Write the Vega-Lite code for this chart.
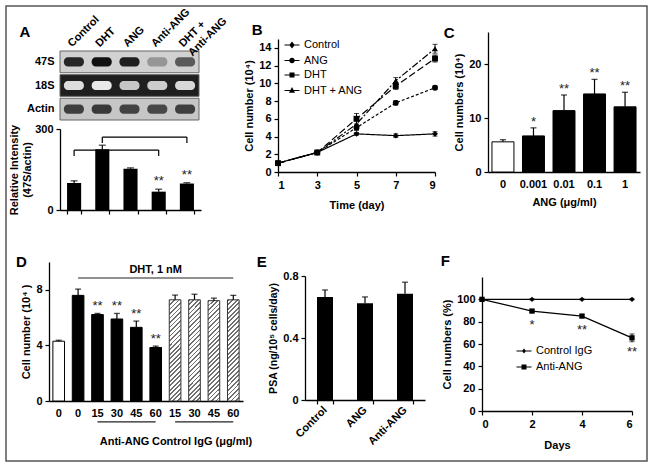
{
"$schema": "https://vega.github.io/schema/vega-lite/v6.json",
"background": "white",
"padding": {"left": 5, "top": 5, "right": 5, "bottom": 5},
"bounds": "flush",
"spacing": 26,
"config": {
  "font": "Liberation Sans",
  "view": {"stroke": null},
  "axis": {"grid": false, "domainColor": "#000", "domainWidth": 1.3, "tickColor": "#000", "tickWidth": 1.2, "tickSize": 4, "labelColor": "#000", "labelFont": "Liberation Sans", "labelFontSize": 11, "labelFontWeight": "bold", "labelPadding": 3, "titleColor": "#000", "titleFont": "Liberation Sans", "titleFontSize": 11, "titleFontWeight": "bold", "titlePadding": 4},
  "title": {"font": "Liberation Sans", "fontSize": 15, "fontWeight": "bold", "anchor": "start", "frame": "bounds", "color": "#000", "offset": 4},
  "legend": {"labelFont": "Liberation Sans", "labelFontSize": 11, "labelColor": "#000"}
},
"datasets": {
  "gelbg": [{"probe": "47S", "level": 0.16}, {"probe": "18S", "level": 0.88}, {"probe": "Actin", "level": 0.2}],
  "gel": [
    {"lane": "Control", "probe": "47S", "level": 0.85}, {"lane": "DHT", "probe": "47S", "level": 0.95}, {"lane": "ANG", "probe": "47S", "level": 0.88}, {"lane": "Anti-ANG", "probe": "47S", "level": 0.38}, {"lane": "DHT + Anti-ANG", "probe": "47S", "level": 0.62},
    {"lane": "Control", "probe": "18S", "level": 0.12}, {"lane": "DHT", "probe": "18S", "level": 0.08}, {"lane": "ANG", "probe": "18S", "level": 0.2}, {"lane": "Anti-ANG", "probe": "18S", "level": 0.18}, {"lane": "DHT + Anti-ANG", "probe": "18S", "level": 0.14},
    {"lane": "Control", "probe": "Actin", "level": 0.74}, {"lane": "DHT", "probe": "Actin", "level": 0.76}, {"lane": "ANG", "probe": "Actin", "level": 0.72}, {"lane": "Anti-ANG", "probe": "Actin", "level": 0.7}, {"lane": "DHT + Anti-ANG", "probe": "Actin", "level": 0.74}
  ],
  "intensity": [
    {"lane": "Control", "value": 100, "hi": 108, "sig": ""},
    {"lane": "DHT", "value": 225, "hi": 240, "sig": ""},
    {"lane": "ANG", "value": 153, "hi": 156, "sig": ""},
    {"lane": "Anti-ANG", "value": 68, "hi": 77, "sig": "**"},
    {"lane": "DHT + Anti-ANG", "value": 98, "hi": 101, "sig": "**"}
  ],
  "brackets": [
    {"from": "Control", "to": "Anti-ANG", "top": 222, "foot": 200},
    {"from": "DHT", "to": "DHT + Anti-ANG", "top": 270, "foot": 248}
  ],
  "growth": [
    {"day": 1, "series": "Control", "value": 1, "err": 0.05}, {"day": 3, "series": "Control", "value": 2.2, "err": 0.1}, {"day": 5, "series": "Control", "value": 4.3, "err": 0.15}, {"day": 7, "series": "Control", "value": 4.1, "err": 0.2}, {"day": 9, "series": "Control", "value": 4.3, "err": 0.25},
    {"day": 1, "series": "ANG", "value": 1, "err": 0.05}, {"day": 3, "series": "ANG", "value": 2.2, "err": 0.1}, {"day": 5, "series": "ANG", "value": 5.0, "err": 0.3}, {"day": 7, "series": "ANG", "value": 7.8, "err": 0.25}, {"day": 9, "series": "ANG", "value": 9.5, "err": 0.2},
    {"day": 1, "series": "DHT", "value": 1, "err": 0.05}, {"day": 3, "series": "DHT", "value": 2.2, "err": 0.1}, {"day": 5, "series": "DHT", "value": 6.0, "err": 0.6}, {"day": 7, "series": "DHT", "value": 9.7, "err": 0.4}, {"day": 9, "series": "DHT", "value": 12.8, "err": 0.4},
    {"day": 1, "series": "DHT + ANG", "value": 1, "err": 0.05}, {"day": 3, "series": "DHT + ANG", "value": 2.2, "err": 0.1}, {"day": 5, "series": "DHT + ANG", "value": 5.4, "err": 0.4}, {"day": 7, "series": "DHT + ANG", "value": 10.3, "err": 0.35}, {"day": 9, "series": "DHT + ANG", "value": 13.9, "err": 0.5}
  ],
  "ang": [
    {"dose": "0", "group": "vehicle", "value": 5.6, "hi": 6.0, "sig": ""},
    {"dose": "0.001", "group": "ANG", "value": 6.7, "hi": 8.2, "sig": "*"},
    {"dose": "0.01", "group": "ANG", "value": 11.4, "hi": 14.3, "sig": "**"},
    {"dose": "0.1", "group": "ANG", "value": 14.5, "hi": 17.2, "sig": "**"},
    {"dose": "1", "group": "ANG", "value": 12.1, "hi": 14.8, "sig": "**"}
  ],
  "dht": [
    {"id": "c0", "group": "Untreated", "value": 4.3, "hi": 4.37, "sig": ""},
    {"id": "d0", "group": "DHT", "value": 7.6, "hi": 8.05, "sig": ""},
    {"id": "a15", "group": "Anti-ANG", "value": 6.22, "hi": 6.3, "sig": "**"},
    {"id": "a30", "group": "Anti-ANG", "value": 5.9, "hi": 6.3, "sig": "**"},
    {"id": "a45", "group": "Anti-ANG", "value": 5.3, "hi": 5.75, "sig": "**"},
    {"id": "a60", "group": "Anti-ANG", "value": 3.85, "hi": 3.95, "sig": "**"},
    {"id": "g15", "group": "Control IgG", "value": 7.28, "hi": 7.62, "sig": ""},
    {"id": "g30", "group": "Control IgG", "value": 7.28, "hi": 7.68, "sig": ""},
    {"id": "g45", "group": "Control IgG", "value": 7.22, "hi": 7.4, "sig": ""},
    {"id": "g60", "group": "Control IgG", "value": 7.28, "hi": 7.6, "sig": ""}
  ],
  "dhtnote": [{"from": "d0", "to": "g60", "at": "a60", "level": 8.85, "label": "DHT, 1 nM"}],
  "dhtgroups": [
    {"from": "a15", "to": "a60", "at": "a30", "level": -1.5, "label": "Anti-ANG"},
    {"from": "g15", "to": "g60", "at": "g30", "level": -1.5, "label": "Control IgG (μg/ml)"}
  ],
  "psa": [
    {"treat": "Control", "value": 0.665, "hi": 0.71},
    {"treat": "ANG", "value": 0.625, "hi": 0.665},
    {"treat": "Anti-ANG", "value": 0.685, "hi": 0.76}
  ],
  "igg": [
    {"day": 0, "series": "Control IgG", "value": 100, "err": 0.5, "sig": ""}, {"day": 2, "series": "Control IgG", "value": 100, "err": 0.5, "sig": ""}, {"day": 4, "series": "Control IgG", "value": 100, "err": 0.5, "sig": ""}, {"day": 6, "series": "Control IgG", "value": 100, "err": 0.5, "sig": ""},
    {"day": 0, "series": "Anti-ANG", "value": 100, "err": 0.5, "sig": ""}, {"day": 2, "series": "Anti-ANG", "value": 89.5, "err": 1.2, "sig": "*"}, {"day": 4, "series": "Anti-ANG", "value": 85, "err": 1.2, "sig": "**"}, {"day": 6, "series": "Anti-ANG", "value": 65.5, "err": 3.5, "sig": "**"}
  ]
},
"vconcat": [
 {"vconcat": [{"width": 641, "height": 455, "data": {"values": []}, "mark": "point", "view": {"stroke": "#555", "strokeWidth": 1.5}}]},
 {"bounds": "flush", "spacing": 42, "hconcat": [
  {"width": 1, "height": 1, "data": {"values": []}, "mark": "point"},
  {"bounds": "flush", "spacing": 230, "vconcat": [
  {"bounds": "flush", "spacing": 10, "hconcat": [
    {"width": 1, "height": 1, "data": {"values": []}, "mark": "point"},
    {"bounds": "flush", "spacing": 218, "hconcat": [
      {"bounds": "flush", "spacing": 9, "vconcat": [
        {"width": 1, "height": 10, "data": {"values": []}, "mark": "point"},
        {"width": 139, "height": 69,
         "title": {"text": "A", "dx": -7, "dy": 38},
         "layer": [
          {"data": {"name": "gelbg"},
           "mark": {"type": "rect", "stroke": "#666", "strokeWidth": 1},
           "encoding": {
             "y": {"field": "probe", "type": "nominal", "sort": ["47S", "18S", "Actin"], "scale": {"paddingInner": 0.08, "paddingOuter": 0}, "axis": {"domain": false, "ticks": false, "title": null, "labelPadding": 6}},
             "color": {"field": "level", "type": "quantitative", "scale": {"domain": [0, 1], "range": ["#ffffff", "#000000"]}, "legend": null}
           }},
          {"data": {"name": "gel"},
           "mark": {"type": "rect", "width": {"band": 0.72}, "height": {"band": 0.42}, "cornerRadius": 4},
           "encoding": {
             "x": {"field": "lane", "type": "nominal", "sort": ["Control", "DHT", "ANG", "Anti-ANG", "DHT + Anti-ANG"], "scale": {"paddingInner": 0, "paddingOuter": 0}, "axis": {"orient": "top", "labelAngle": -45, "labelAlign": "left", "labelBaseline": "middle", "domain": false, "ticks": false, "title": null, "labelPadding": 6, "labelOffset": -4, "labelExpr": "datum.value == 'DHT + Anti-ANG' ? ['DHT +', 'Anti-ANG'] : datum.value"}},
             "y": {"field": "probe", "type": "nominal", "sort": ["47S", "18S", "Actin"]},
             "color": {"field": "level", "type": "quantitative"}
           }}
         ]},
        {"width": 141, "height": 81,
         "data": {"name": "intensity"},
         "layer": [
          {"mark": {"type": "bar", "color": "black"},
           "encoding": {
             "x": {"field": "lane", "type": "nominal", "scale": {"domain": ["Control", "DHT", "ANG", "Anti-ANG", "DHT + Anti-ANG"], "paddingInner": 0.5, "paddingOuter": 0.25}, "axis": {"labels": false, "title": null, "tickBand": "extent"}},
             "y": {"field": "value", "type": "quantitative", "scale": {"domain": [0, 300]}, "axis": {"values": [0, 100, 200, 300], "title": ["Relative Intensity", "(47S/actin)"], "titlePadding": 2, "titleFontSize": 11}}
           }},
          {"mark": {"type": "rule", "color": "black", "strokeWidth": 1.2},
           "encoding": {"x": {"field": "lane", "type": "nominal"}, "y": {"field": "value", "type": "quantitative"}, "y2": {"field": "hi"}}},
          {"mark": {"type": "tick", "color": "black", "size": 7, "thickness": 1.3},
           "encoding": {"x": {"field": "lane", "type": "nominal"}, "y": {"field": "hi", "type": "quantitative"}}},
          {"mark": {"type": "text", "fontSize": 13, "baseline": "alphabetic", "dy": -4, "color": "#222"},
           "encoding": {"x": {"field": "lane", "type": "nominal"}, "y": {"field": "hi", "type": "quantitative"}, "text": {"field": "sig"}}},
          {"data": {"name": "brackets"}, "mark": {"type": "rule", "color": "black", "strokeWidth": 1.2},
           "encoding": {"x": {"field": "from", "type": "nominal"}, "x2": {"field": "to"}, "y": {"field": "top", "type": "quantitative"}}},
          {"data": {"name": "brackets"}, "mark": {"type": "rule", "color": "black", "strokeWidth": 1.2},
           "encoding": {"x": {"field": "from", "type": "nominal"}, "y": {"field": "top", "type": "quantitative"}, "y2": {"field": "foot"}}},
          {"data": {"name": "brackets"}, "mark": {"type": "rule", "color": "black", "strokeWidth": 1.2},
           "encoding": {"x": {"field": "to", "type": "nominal"}, "y": {"field": "top", "type": "quantitative"}, "y2": {"field": "foot"}}}
         ]}
      ]},
      {"bounds": "flush", "spacing": 210, "hconcat": [
        {"bounds": "flush", "spacing": 6, "vconcat": [
          {"width": 1, "height": 1, "data": {"values": []}, "mark": "point"},
          {"width": 157, "height": 133,
           "title": {"text": "B", "dx": 8, "dy": 3},
           "data": {"name": "growth"},
           "encoding": {
             "x": {"field": "day", "type": "quantitative", "scale": {"domain": [1, 9]}, "axis": {"values": [1, 3, 5, 7, 9], "title": "Time (day)", "titlePadding": 9}},
             "y": {"field": "value", "type": "quantitative", "scale": {"domain": [0, 15]}, "axis": {"values": [0, 2, 4, 6, 8, 10, 12, 14], "title": "Cell number (10⁴)"}}
           },
           "resolve": {"scale": {"shape": "independent"}, "legend": {"shape": "independent"}},
           "layer": [
             {"mark": {"type": "line", "color": "black", "strokeWidth": 1.2},
              "encoding": {"strokeDash": {"field": "series", "type": "nominal", "scale": {"domain": ["Control", "ANG", "DHT", "DHT + ANG"], "range": [[1, 0], [3, 2], [7, 3], [7, 2, 2, 2]]}, "legend": null}}},
             {"mark": {"type": "errorbar", "rule": {"color": "black"}, "ticks": {"color": "black", "size": 5}},
              "encoding": {"yError": {"field": "err"}, "detail": {"field": "series"}}},
             {"mark": {"type": "point", "filled": true, "color": "black", "opacity": 1, "size": 35},
              "encoding": {"shape": {"field": "series", "type": "nominal", "scale": {"domain": ["Control", "ANG", "DHT", "DHT + ANG"], "range": ["diamond", "circle", "square", "triangle-up"]}, "legend": null}}},
             {"data": {"values": []},
              "mark": {"type": "point", "filled": true, "color": "black", "opacity": 1},
              "encoding": {"shape": {"field": "series", "type": "nominal", "scale": {"domain": ["Control", "ANG", "DHT", "DHT + ANG"], "range": ["M-1.5,-0.11H1.5V0.11H-1.5Z M0,-0.7L0.55,0L0,0.7L-0.55,0Z", "M-1.5,-0.11H1.5V0.11H-1.5Z M0.55,0A0.55,0.55 0 1,1 -0.55,0A0.55,0.55 0 1,1 0.55,0Z", "M-1.5,-0.11H1.5V0.11H-1.5Z M-0.5,-0.5H0.5V0.5H-0.5Z", "M-1.5,-0.11H1.5V0.11H-1.5Z M0,-0.7L0.6,0.45H-0.6Z"]}, "legend": {"orient": "none", "legendX": 8, "legendY": 0, "title": null, "symbolSize": 100, "labelOffset": 6, "rowPadding": 2.5, "symbolFillColor": "black", "symbolOpacity": 1}}}}
           ]}
        ]},
        {"width": 152, "height": 140,
         "title": {"text": "C", "dx": -10, "dy": 13},
         "data": {"name": "ang"},
         "encoding": {"x": {"field": "dose", "type": "nominal", "sort": ["0", "0.001", "0.01", "0.1", "1"], "scale": {"paddingInner": 0.28, "paddingOuter": 0.13}, "axis": {"labelAngle": 0, "ticks": false, "title": "ANG (μg/ml)", "titlePadding": 7, "labelPadding": 6}}},
         "layer": [
           {"mark": {"type": "bar", "stroke": "black", "strokeWidth": 1},
            "encoding": {
              "y": {"field": "value", "type": "quantitative", "scale": {"domain": [0, 25]}, "axis": {"values": [0, 5, 10, 15, 20, 25], "title": "Cell numbers (10⁴)"}},
              "fill": {"field": "group", "type": "nominal", "scale": {"domain": ["vehicle", "ANG"], "range": ["white", "black"]}, "legend": null}
            }},
           {"mark": {"type": "rule", "color": "black", "strokeWidth": 1.2}, "encoding": {"y": {"field": "value", "type": "quantitative"}, "y2": {"field": "hi"}}},
           {"mark": {"type": "tick", "color": "black", "size": 6, "thickness": 1.3}, "encoding": {"y": {"field": "hi", "type": "quantitative"}}},
           {"mark": {"type": "text", "fontSize": 13, "baseline": "alphabetic", "dy": -2, "color": "#222"}, "encoding": {"y": {"field": "hi", "type": "quantitative"}, "text": {"field": "sig"}}}
         ]}
      ]}
    ]}
  ]},
  {"bounds": "flush", "spacing": 62, "hconcat": [
    {"width": 194, "height": 139,
     "title": {"text": "D", "dx": -5, "dy": 12},
     "layer": [
       {"data": {"name": "dht"}, "transform": [{"filter": "datum.group == 'Untreated'"}],
        "mark": {"type": "bar", "stroke": "black", "strokeWidth": 1, "fill": "white"},
        "encoding": {
          "x": {"field": "id", "type": "nominal", "scale": {"domain": ["c0", "d0", "a15", "a30", "a45", "a60", "g15", "g30", "g45", "g60"], "paddingInner": 0.4, "paddingOuter": 0.2}, "axis": {"labelExpr": "substring(datum.value, 1)", "labelAngle": 0, "ticks": false, "title": null, "labelPadding": 6}},
          "y": {"field": "value", "type": "quantitative", "scale": {"domain": [0, 10]}, "axis": {"values": [0, 2, 4, 6, 8], "title": "Cell number (10⁴ )"}}
        }},
       {"data": {"name": "dht"}, "transform": [{"filter": "datum.group == 'DHT' || datum.group == 'Anti-ANG'"}],
        "mark": {"type": "bar", "stroke": "black", "strokeWidth": 1, "fill": "black"},
        "encoding": {"x": {"field": "id", "type": "nominal"}, "y": {"field": "value", "type": "quantitative"}}},
       {"data": {"name": "dht"}, "transform": [{"filter": "datum.group == 'Control IgG'"}],
        "mark": {"type": "bar", "stroke": "#333", "strokeWidth": 1,
          "fill": {"gradient": "linear", "x1": 0, "y1": 0, "x2": 0.127, "y2": 1.1, "stops": [
            {"offset": 0, "color": "#707070"}, {"offset": 0.016, "color": "#707070"}, {"offset": 0.016, "color": "#ffffff"}, {"offset": 0.04, "color": "#ffffff"},
            {"offset": 0.04, "color": "#707070"}, {"offset": 0.056, "color": "#707070"}, {"offset": 0.056, "color": "#ffffff"}, {"offset": 0.08, "color": "#ffffff"},
            {"offset": 0.08, "color": "#707070"}, {"offset": 0.096, "color": "#707070"}, {"offset": 0.096, "color": "#ffffff"}, {"offset": 0.12, "color": "#ffffff"},
            {"offset": 0.12, "color": "#707070"}, {"offset": 0.136, "color": "#707070"}, {"offset": 0.136, "color": "#ffffff"}, {"offset": 0.16, "color": "#ffffff"},
            {"offset": 0.16, "color": "#707070"}, {"offset": 0.176, "color": "#707070"}, {"offset": 0.176, "color": "#ffffff"}, {"offset": 0.2, "color": "#ffffff"},
            {"offset": 0.2, "color": "#707070"}, {"offset": 0.216, "color": "#707070"}, {"offset": 0.216, "color": "#ffffff"}, {"offset": 0.24, "color": "#ffffff"},
            {"offset": 0.24, "color": "#707070"}, {"offset": 0.256, "color": "#707070"}, {"offset": 0.256, "color": "#ffffff"}, {"offset": 0.28, "color": "#ffffff"},
            {"offset": 0.28, "color": "#707070"}, {"offset": 0.296, "color": "#707070"}, {"offset": 0.296, "color": "#ffffff"}, {"offset": 0.32, "color": "#ffffff"},
            {"offset": 0.32, "color": "#707070"}, {"offset": 0.336, "color": "#707070"}, {"offset": 0.336, "color": "#ffffff"}, {"offset": 0.36, "color": "#ffffff"},
            {"offset": 0.36, "color": "#707070"}, {"offset": 0.376, "color": "#707070"}, {"offset": 0.376, "color": "#ffffff"}, {"offset": 0.4, "color": "#ffffff"},
            {"offset": 0.4, "color": "#707070"}, {"offset": 0.416, "color": "#707070"}, {"offset": 0.416, "color": "#ffffff"}, {"offset": 0.44, "color": "#ffffff"},
            {"offset": 0.44, "color": "#707070"}, {"offset": 0.456, "color": "#707070"}, {"offset": 0.456, "color": "#ffffff"}, {"offset": 0.48, "color": "#ffffff"},
            {"offset": 0.48, "color": "#707070"}, {"offset": 0.496, "color": "#707070"}, {"offset": 0.496, "color": "#ffffff"}, {"offset": 0.52, "color": "#ffffff"},
            {"offset": 0.52, "color": "#707070"}, {"offset": 0.536, "color": "#707070"}, {"offset": 0.536, "color": "#ffffff"}, {"offset": 0.56, "color": "#ffffff"},
            {"offset": 0.56, "color": "#707070"}, {"offset": 0.576, "color": "#707070"}, {"offset": 0.576, "color": "#ffffff"}, {"offset": 0.6, "color": "#ffffff"},
            {"offset": 0.6, "color": "#707070"}, {"offset": 0.616, "color": "#707070"}, {"offset": 0.616, "color": "#ffffff"}, {"offset": 0.64, "color": "#ffffff"},
            {"offset": 0.64, "color": "#707070"}, {"offset": 0.656, "color": "#707070"}, {"offset": 0.656, "color": "#ffffff"}, {"offset": 0.68, "color": "#ffffff"},
            {"offset": 0.68, "color": "#707070"}, {"offset": 0.696, "color": "#707070"}, {"offset": 0.696, "color": "#ffffff"}, {"offset": 0.72, "color": "#ffffff"},
            {"offset": 0.72, "color": "#707070"}, {"offset": 0.736, "color": "#707070"}, {"offset": 0.736, "color": "#ffffff"}, {"offset": 0.76, "color": "#ffffff"},
            {"offset": 0.76, "color": "#707070"}, {"offset": 0.776, "color": "#707070"}, {"offset": 0.776, "color": "#ffffff"}, {"offset": 0.8, "color": "#ffffff"},
            {"offset": 0.8, "color": "#707070"}, {"offset": 0.816, "color": "#707070"}, {"offset": 0.816, "color": "#ffffff"}, {"offset": 0.84, "color": "#ffffff"},
            {"offset": 0.84, "color": "#707070"}, {"offset": 0.856, "color": "#707070"}, {"offset": 0.856, "color": "#ffffff"}, {"offset": 0.88, "color": "#ffffff"},
            {"offset": 0.88, "color": "#707070"}, {"offset": 0.896, "color": "#707070"}, {"offset": 0.896, "color": "#ffffff"}, {"offset": 0.92, "color": "#ffffff"},
            {"offset": 0.92, "color": "#707070"}, {"offset": 0.936, "color": "#707070"}, {"offset": 0.936, "color": "#ffffff"}, {"offset": 0.96, "color": "#ffffff"},
            {"offset": 0.96, "color": "#707070"}, {"offset": 0.976, "color": "#707070"}, {"offset": 0.976, "color": "#ffffff"}, {"offset": 1, "color": "#ffffff"}
          ]}},
        "encoding": {"x": {"field": "id", "type": "nominal"}, "y": {"field": "value", "type": "quantitative"}}},
       {"data": {"name": "dht"}, "mark": {"type": "rule", "color": "black", "strokeWidth": 1.2},
        "encoding": {"x": {"field": "id", "type": "nominal"}, "y": {"field": "value", "type": "quantitative"}, "y2": {"field": "hi"}}},
       {"data": {"name": "dht"}, "mark": {"type": "tick", "color": "black", "size": 6, "thickness": 1.3},
        "encoding": {"x": {"field": "id", "type": "nominal"}, "y": {"field": "hi", "type": "quantitative"}}},
       {"data": {"name": "dht"}, "mark": {"type": "text", "fontSize": 13, "baseline": "alphabetic", "dy": -3, "color": "#222"},
        "encoding": {"x": {"field": "id", "type": "nominal"}, "y": {"field": "hi", "type": "quantitative"}, "text": {"field": "sig"}}},
       {"data": {"name": "dhtnote"}, "mark": {"type": "rule", "color": "#222", "strokeWidth": 1.2},
        "encoding": {"x": {"field": "from", "type": "nominal"}, "x2": {"field": "to"}, "y": {"field": "level", "type": "quantitative"}}},
       {"data": {"name": "dhtnote"}, "mark": {"type": "text", "fontSize": 11, "fontWeight": "bold", "baseline": "alphabetic", "dy": -5, "color": "black"},
        "encoding": {"x": {"field": "at", "type": "nominal"}, "y": {"field": "level", "type": "quantitative"}, "text": {"field": "label"}}},
       {"data": {"name": "dhtgroups"}, "mark": {"type": "rule", "color": "#222", "strokeWidth": 1.2},
        "encoding": {"x": {"field": "from", "type": "nominal"}, "x2": {"field": "to"}, "y": {"field": "level", "type": "quantitative"}}},
       {"data": {"name": "dhtgroups"}, "mark": {"type": "text", "fontSize": 11, "fontWeight": "bold", "baseline": "middle", "dy": 41, "color": "black"},
        "encoding": {"x": {"field": "at", "type": "nominal", "bandPosition": 1.15}, "y": {"datum": 0}, "text": {"field": "label"}}}
     ]},
    {"bounds": "flush", "spacing": 177, "hconcat": [
      {"bounds": "flush", "spacing": 13, "vconcat": [
        {"width": 1, "height": 1, "data": {"values": []}, "mark": "point"},
        {"width": 120, "height": 124,
         "title": {"text": "E", "dx": -12, "dy": 4},
         "data": {"name": "psa"},
         "encoding": {"x": {"field": "treat", "type": "nominal", "sort": ["Control", "ANG", "Anti-ANG"], "scale": {"paddingInner": 0.6, "paddingOuter": 0.3}, "axis": {"labelAngle": -45, "labelAlign": "right", "labelBaseline": "middle", "tickBand": "extent", "title": null, "labelPadding": 4}}},
         "layer": [
           {"mark": {"type": "bar", "color": "black"},
            "encoding": {"y": {"field": "value", "type": "quantitative", "scale": {"domain": [0, 0.8]}, "axis": {"values": [0, 0.2, 0.4, 0.6, 0.8], "format": "~g", "title": "PSA (ng/10⁵ cells/day)", "titleFontSize": 10.5}}}},
           {"mark": {"type": "rule", "color": "black", "strokeWidth": 1.2}, "encoding": {"y": {"field": "value", "type": "quantitative"}, "y2": {"field": "hi"}}},
           {"mark": {"type": "tick", "color": "black", "size": 6, "thickness": 1.3}, "encoding": {"y": {"field": "hi", "type": "quantitative"}}}
         ]}
      ]},
      {"bounds": "flush", "spacing": 14, "vconcat": [
        {"width": 1, "height": 1, "data": {"values": []}, "mark": "point"},
        {"width": 150, "height": 134,
         "title": {"text": "F", "dx": -1, "dy": -4},
         "data": {"name": "igg"},
         "encoding": {
           "x": {"field": "day", "type": "quantitative", "scale": {"domain": [0, 6]}, "axis": {"values": [0, 2, 4, 6], "title": "Days", "titlePadding": 10}},
           "y": {"field": "value", "type": "quantitative", "scale": {"domain": [0, 120]}, "axis": {"values": [0, 20, 40, 60, 80, 100], "title": "Cell numbers (%)"}}
         },
         "resolve": {"scale": {"shape": "independent"}, "legend": {"shape": "independent"}},
         "layer": [
           {"mark": {"type": "line", "color": "black", "strokeWidth": 1.3}, "encoding": {"detail": {"field": "series"}}},
           {"mark": {"type": "errorbar", "rule": {"color": "black"}, "ticks": {"color": "black", "size": 5}}, "encoding": {"yError": {"field": "err"}, "detail": {"field": "series"}}},
           {"mark": {"type": "point", "filled": true, "color": "black", "opacity": 1, "size": 28},
            "encoding": {"shape": {"field": "series", "type": "nominal", "scale": {"domain": ["Control IgG", "Anti-ANG"], "range": ["diamond", "square"]}, "legend": null}}},
           {"mark": {"type": "text", "fontSize": 13, "baseline": "alphabetic", "dy": 18, "color": "#222"}, "encoding": {"text": {"field": "sig"}}},
           {"data": {"values": []},
            "mark": {"type": "point", "filled": true, "color": "black", "opacity": 1},
            "encoding": {"shape": {"field": "series", "type": "nominal", "scale": {"domain": ["Control IgG", "Anti-ANG"], "range": ["M-1.5,-0.11H1.5V0.11H-1.5Z M0,-0.5L0.4,0L0,0.5L-0.4,0Z", "M-1.5,-0.11H1.5V0.11H-1.5Z M-0.5,-0.5H0.5V0.5H-0.5Z"]}, "legend": {"orient": "none", "legendX": 36, "legendY": 68, "title": null, "symbolSize": 100, "labelOffset": 6, "rowPadding": 4, "symbolFillColor": "black", "symbolOpacity": 1}}}}
         ]}
      ]}
    ]}
  ]}
  ]}
 ]}
]
}
